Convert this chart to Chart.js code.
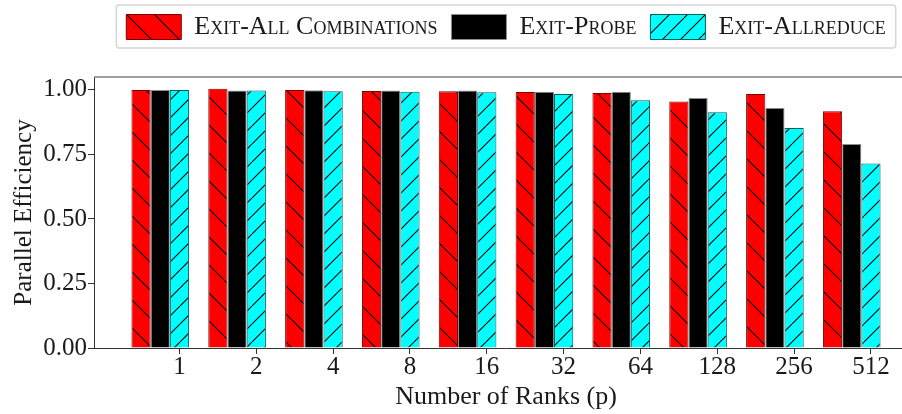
<!DOCTYPE html>
<html>
<head>
<meta charset="utf-8">
<script src="https://cdn.jsdelivr.net/npm/chart.js@4.4.1/dist/chart.umd.min.js"></script>
<style>
  html, body { margin: 0; padding: 0; background: #fff; overflow: hidden; width: 902px; height: 414px; }
  #wrap { width: 918px; height: 414px; }
</style>
</head>
<body>
<div id="wrap"><canvas id="c" width="918" height="414"></canvas></div>
<script>
// Parallel efficiency per number of MPI ranks, for each exit strategy
const ranks = ['1', '2', '4', '8', '16', '32', '64', '128', '256', '512'];
const exitAllCombinations = [1.000, 1.004, 1.000, 0.996, 0.995, 0.992, 0.988, 0.955, 0.984, 0.917];
const exitProbe           = [1.000, 0.998, 0.999, 0.998, 0.998, 0.993, 0.993, 0.969, 0.930, 0.790];
const exitAllreduce       = [1.000, 0.998, 0.995, 0.993, 0.991, 0.984, 0.960, 0.913, 0.852, 0.715];
const yTickValues = [0, 0.25, 0.5, 0.75, 1.0];

const SERIF = "'Liberation Serif', 'DejaVu Serif', serif";
const TEXT = '#1a1a1a';

const canvas = document.getElementById('c');
const ctx = canvas.getContext('2d');

// Diagonal hatch fill: 'back' = "\\" lines, 'fwd' = "//" lines
function hatch(fill, size, dir) {
  const t = document.createElement('canvas');
  t.width = t.height = size;
  const g = t.getContext('2d');
  g.fillStyle = fill;
  g.fillRect(0, 0, size, size);
  g.strokeStyle = '#000';
  g.lineWidth = 1.1;
  g.beginPath();
  for (const k of [-size, 0, size]) {
    if (dir === 'back') { g.moveTo(k, 0); g.lineTo(k + size, size); }
    else { g.moveTo(k + size, 0); g.lineTo(k, size); }
  }
  g.stroke();
  return ctx.createPattern(t, 'repeat');
}

const toPoints = arr => arr.map((v, i) => ({ x: i, y: v }));

// Grey top spine plus a rounded frame around the legend entries
const framePlugin = {
  id: 'frame',
  afterInit(chart) {
    const lg = chart.legend;
    const fit = lg.fit.bind(lg);
    lg.fit = function () { fit(); this.height = 77; };
  },
  afterDraw(chart) {
    const { ctx: c, chartArea: a, legend } = chart;
    c.save();
    c.strokeStyle = '#808080';
    c.lineWidth = 1.5;
    c.beginPath();
    c.moveTo(a.left, a.top);
    c.lineTo(a.right, a.top);
    c.stroke();
    const hb = legend.legendHitBoxes;
    if (hb && hb.length) {
      const first = hb[0], last = hb[hb.length - 1];
      const l = first.left - 10, r = last.left + last.width + 10;
      const t = first.top - 9, b = first.top + first.height + 8;
      c.strokeStyle = '#d6d6d6';
      c.lineWidth = 1.5;
      c.beginPath();
      c.roundRect(l, t, r - l, b - t, 3);
      c.stroke();
    }
    c.restore();
  }
};

new Chart(ctx, {
  type: 'bar',
  data: {
    datasets: [
      { label: 'Exit-All Combinations', data: toPoints(exitAllCombinations),
        backgroundColor: hatch('#ff0000', 28, 'back'), borderColor: '#7a0000', borderWidth: 1 },
      { label: 'Exit-Probe', data: toPoints(exitProbe),
        backgroundColor: '#000000', borderColor: '#8c8c8c', borderWidth: 1 },
      { label: 'Exit-Allreduce', data: toPoints(exitAllreduce),
        backgroundColor: hatch('#00ffff', 18, 'fwd'), borderColor: '#005f5f', borderWidth: 1 }
    ]
  },
  options: {
    responsive: false,
    animation: false,
    datasets: { bar: { categoryPercentage: 0.75, barPercentage: 1 } },
    layout: { padding: { top: 0, right: 0, bottom: 0, left: 0 } },
    plugins: {
      tooltip: { enabled: false },
      legend: {
        position: 'top',
        fullSize: false,
        align: 'center',
        labels: {
          boxWidth: 55, boxHeight: 25, padding: 14, color: TEXT,
          font: { family: SERIF, size: 26, weight: 'small-caps' }
        }
      }
    },
    scales: {
      x: {
        type: 'linear',
        min: -0.8625, max: 9.8625,
        offset: false,
        afterBuildTicks(s) { s.ticks = ranks.map((_, i) => ({ value: i + 0.25 })); },
        afterFit(s) { s.height = 66; },
        ticks: {
          callback: (v, i) => ranks[i],
          autoSkip: false, maxRotation: 0, padding: 1, color: TEXT,
          font: { family: SERIF, size: 25, lineHeight: 1 }
        },
        grid: { drawOnChartArea: false, offset: false, tickLength: 6, color: '#333' },
        border: { color: '#333', width: 1 },
        title: {
          display: true, text: 'Number of Ranks (p)', color: TEXT,
          font: { family: SERIF, size: 26, lineHeight: 1.2 },
          padding: { top: 0, bottom: 1 }
        }
      },
      y: {
        min: 0, max: 1.05,
        afterBuildTicks(s) { s.ticks = yTickValues.map(v => ({ value: v })); },
        afterFit(s) { s.width = 94; },
        ticks: {
          callback: v => v.toFixed(2),
          padding: 1, color: TEXT,
          font: { family: SERIF, size: 25, lineHeight: 1 }
        },
        grid: { drawOnChartArea: false, tickLength: 6, color: '#333' },
        border: { color: '#333', width: 1 },
        title: {
          display: true, text: 'Parallel Efficiency', color: TEXT,
          font: { family: SERIF, size: 25, lineHeight: 1.2 },
          padding: { top: 9, bottom: 0 }
        }
      }
    }
  },
  plugins: [framePlugin]
});
</script>
</body>
</html>
